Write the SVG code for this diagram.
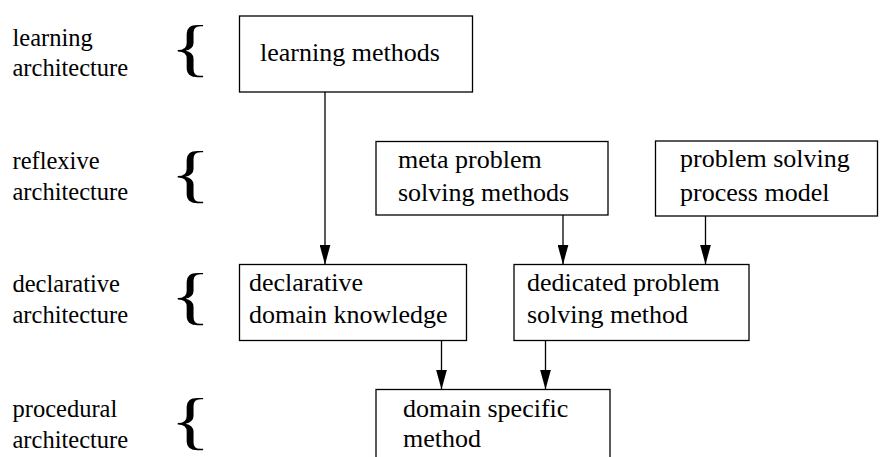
<svg xmlns="http://www.w3.org/2000/svg" width="880" height="457" viewBox="0 0 880 457">
<style>
  .box{fill:#fff;stroke:#000;stroke-width:1.3}
  .t{font-family:"Liberation Serif","Times New Roman",serif;font-size:26px;fill:#000}
  .lbl{font-family:"Liberation Serif","Times New Roman",serif;font-size:24.5px;fill:#000}
  .brace{font-family:"Liberation Serif","Times New Roman",serif;font-size:64px;fill:#000}
  .edge{stroke:#000;stroke-width:1.3;fill:none;marker-end:url(#ah)}
</style>
<defs>
  <marker id="ah" viewBox="0 0 20 11" refX="20" refY="5.5" markerWidth="20" markerHeight="11" markerUnits="userSpaceOnUse" orient="auto">
    <path d="M0,0 L20,5.5 L0,11 z" fill="#000"/>
  </marker>
</defs>
<rect width="880" height="457" fill="#fff"/>
<g id="levels">
  <g id="level-learning">
    <text class="lbl" x="12.5" y="46">learning</text>
    <text class="lbl" x="12.5" y="76">architecture</text>
    <text class="brace" transform="translate(170,69) scale(1.33,1)">{</text>
  </g>
  <g id="level-reflexive">
    <text class="lbl" x="12.5" y="169">reflexive</text>
    <text class="lbl" x="12.5" y="200">architecture</text>
    <text class="brace" transform="translate(170,195) scale(1.33,1)">{</text>
  </g>
  <g id="level-declarative">
    <text class="lbl" x="12.5" y="291.5">declarative</text>
    <text class="lbl" x="12.5" y="323">architecture</text>
    <text class="brace" transform="translate(170,316.5) scale(1.33,1)">{</text>
  </g>
  <g id="level-procedural">
    <text class="lbl" x="12.5" y="417">procedural</text>
    <text class="lbl" x="12.5" y="448">architecture</text>
    <text class="brace" transform="translate(170,441.5) scale(1.33,1)">{</text>
  </g>
</g>
<g id="connectors">
  <line class="edge" x1="325" y1="92" x2="325" y2="264.5"/>
  <line class="edge" x1="563" y1="215" x2="563" y2="264.5"/>
  <line class="edge" x1="705.5" y1="216" x2="705.5" y2="264.5"/>
  <line class="edge" x1="441.5" y1="340.5" x2="441.5" y2="389.5"/>
  <line class="edge" x1="545.5" y1="340.5" x2="545.5" y2="389.5"/>
</g>
<g id="learning-methods">
  <rect class="box" x="239.5" y="16" width="233" height="76"/>
  <text class="t" x="260" y="61">learning methods</text>
</g>
<g id="meta-psm">
  <rect class="box" x="376" y="141.5" width="232" height="73.5"/>
  <text class="t" x="398" y="168">meta problem</text>
  <text class="t" x="398" y="201">solving methods</text>
</g>
<g id="process-model">
  <rect class="box" x="655.5" y="141" width="222" height="75"/>
  <text class="t" x="680" y="167">problem solving</text>
  <text class="t" x="680" y="201">process model</text>
</g>
<g id="declarative-knowledge">
  <rect class="box" x="239.5" y="264.5" width="227" height="76"/>
  <text class="t" x="249" y="291">declarative</text>
  <text class="t" x="249" y="323">domain knowledge</text>
</g>
<g id="dedicated-psm">
  <rect class="box" x="514" y="264.5" width="235" height="76"/>
  <text class="t" x="527" y="291">dedicated problem</text>
  <text class="t" x="527" y="323">solving method</text>
</g>
<g id="domain-specific">
  <rect class="box" x="376" y="389.5" width="234" height="80"/>
  <text class="t" x="403" y="417">domain specific</text>
  <text class="t" x="403" y="447">method</text>
</g>
</svg>
